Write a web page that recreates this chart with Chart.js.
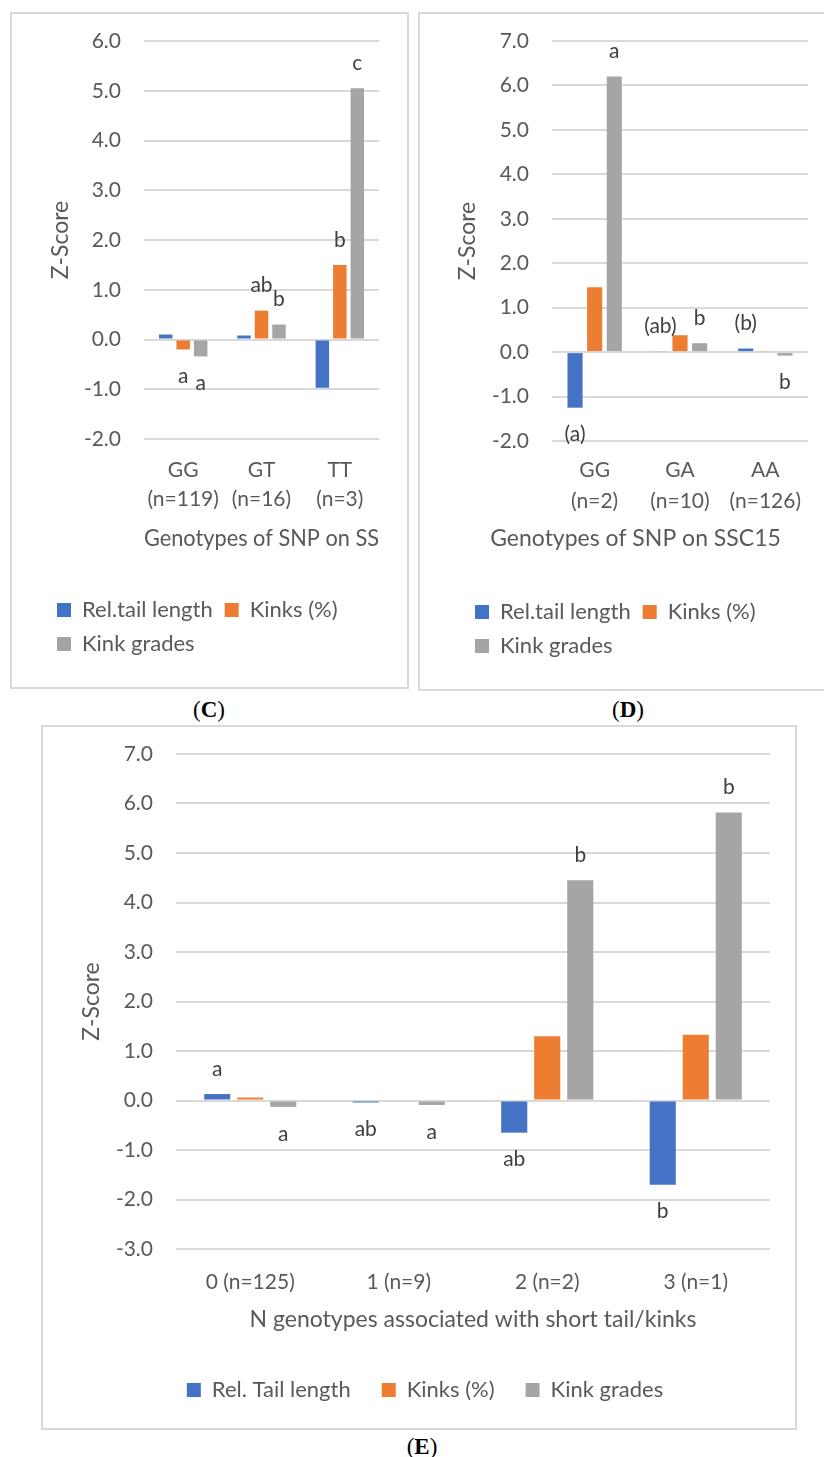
<!DOCTYPE html>
<html>
<head>
<meta charset="utf-8">
<title>Z-Score by genotype</title>
<script src="https://cdn.jsdelivr.net/npm/chart.js@4.4.1/dist/chart.umd.min.js"></script>
<style>
  html, body { margin: 0; padding: 0; background: #fff; }
  body { position: relative; width: 824px; height: 1457px; overflow: hidden; }
  .panel { position: absolute; box-sizing: border-box; border: 2px solid #d9d9d9; }
  canvas { position: absolute; }
  .cap { position: absolute; width: 80px; text-align: center; font: 23px "Liberation Serif", serif; color: #000; line-height: 26px; }
</style>
</head>
<body>
<div class="panel" style="left:10px;top:12px;width:399px;height:677px"></div>
<div class="panel" style="left:418px;top:12px;width:430px;height:679px;border-right:none"></div>
<div class="panel" style="left:41px;top:725px;width:756px;height:705px"></div>

<canvas id="chartC" width="395" height="673" style="left:12px;top:14px"></canvas>
<canvas id="chartD" width="402" height="675" style="left:420px;top:14px"></canvas>
<canvas id="chartE" width="751" height="700" style="left:43px;top:727px"></canvas>

<div class="cap" style="left:169px;top:697px">(<b>C</b>)</div>
<div class="cap" style="left:588px;top:697px">(<b>D</b>)</div>
<div class="cap" style="left:382px;top:1434px">(<b>E</b>)</div>

<script>
// Panel C - SNP genotypes (SSC..)
const catsC = [['GG', '(n=119)'], ['GT', '(n=16)'], ['TT', '(n=3)']];
const relTailC = [0.10, 0.08, -0.97];
const kinksC = [-0.20, 0.58, 1.50];
const gradesC = [-0.34, 0.30, 5.05];
const relTailLettersC = ['', '', ''];
const kinksLettersC = ['a', 'ab', 'b'];
const gradesLettersC = ['a', 'b', 'c'];

// Panel D - SNP genotypes on SSC15
const catsD = [['GG', '(n=2)'], ['GA', '(n=10)'], ['AA', '(n=126)']];
const relTailD = [-1.25, 0.02, 0.08];
const kinksD = [1.46, 0.38, 0.02];
const gradesD = [6.20, 0.20, -0.08];
const relTailLettersD = ['(a)', '(ab)', '(b)'];
const kinksLettersD = ['', '', ''];
const gradesLettersD = ['a', 'b', 'b'];

// Panel E - number of associated genotypes
const catsE = ['0 (n=125)', '1 (n=9)', '2 (n=2)', '3 (n=1)'];
const relTailE = [0.13, -0.04, -0.65, -1.70];
const kinksE = [0.06, 0.02, 1.30, 1.33];
const gradesE = [-0.13, -0.09, 4.45, 5.82];
const relTailLettersE = ['a', 'ab', 'ab', 'b'];
const kinksLettersE = ['', '', '', ''];
const gradesLettersE = ['a', 'a', 'b', 'b'];

const namesCD = ['Rel.tail length', 'Kinks (%)', 'Kink grades'];
const namesE = ['Rel. Tail length', 'Kinks (%)', 'Kink grades'];

const FONT = 'Lato, "Open Sans", sans-serif';
const GREY = '#595959';
const colors = ['#4472C4', '#ED7D31', '#A5A5A5'];

// significance letters drawn just past the end of each bar
const letterPlugin = {
    id: 'letters',
    afterDatasetsDraw(chart) {
        const ctx = chart.ctx;
        ctx.save();
        ctx.font = '21px ' + FONT;
        ctx.fillStyle = '#404040';
        ctx.textAlign = 'center';
        ctx.textBaseline = 'middle';
        chart.data.datasets.forEach((ds, i) => {
            const meta = chart.getDatasetMeta(i);
            ds.letters.forEach((txt, j) => {
                if (!txt) return;
                const bar = meta.data[j];
                const y = ds.data[j] >= 0 ? bar.y - 25 : bar.y + 27;
                ctx.fillText(txt, bar.x, y);
            });
        });
        ctx.restore();
    }
};

function barChart(id, o) {
    return new Chart(document.getElementById(id), {
        type: 'bar',
        data: {
            labels: o.labels,
            datasets: o.series.map((s, i) => ({
                label: o.names[i],
                data: s,
                letters: o.letters[i],
                backgroundColor: colors[i],
                barPercentage: o.barPct,
                categoryPercentage: o.catPct
            }))
        },
        options: {
            responsive: false,
            animation: false,
            devicePixelRatio: 1,
            layout: { padding: o.padding },
            scales: {
                x: {
                    grid: { display: false, drawTicks: false },
                    border: { display: false },
                    ticks: {
                        color: GREY,
                        padding: o.xTickPad,
                        maxRotation: 0,
                        autoSkip: false,
                        font: { family: FONT, size: 21, lineHeight: o.xLineHeight }
                    },
                    title: o.xScaleTitle,
                    afterFit: s => {
                        s.height = o.xHeight;
                        s.paddingLeft = 0;
                        s.paddingRight = 0;
                    }
                },
                y: {
                    min: o.min,
                    max: o.max,
                    ticks: {
                        stepSize: 1,
                        padding: 23,
                        color: GREY,
                        font: { family: FONT, size: 21 },
                        callback: v => v.toFixed(1)
                    },
                    grid: { color: '#d9d9d9', lineWidth: 2, drawTicks: false },
                    border: { display: false },
                    title: {
                        display: true,
                        text: 'Z-Score',
                        color: GREY,
                        font: { family: FONT, size: 23 },
                        padding: { top: o.yTitlePad, bottom: 0 }
                    },
                    afterFit: s => {
                        s.width = o.yWidth;
                        s.paddingTop = 0;
                        s.paddingBottom = 0;
                    }
                }
            },
            plugins: {
                legend: {
                    position: 'bottom',
                    align: o.legendAlign,
                    labels: {
                        boxWidth: 14,
                        boxHeight: 14,
                        padding: o.legendPad,
                        color: GREY,
                        font: { family: FONT, size: 22 }
                    }
                },
                title: o.bottomTitle,
                tooltip: { enabled: false }
            }
        },
        plugins: [letterPlugin]
    });
}

barChart('chartC', {
    labels: catsC,
    series: [relTailC, kinksC, gradesC],
    letters: [relTailLettersC, kinksLettersC, gradesLettersC],
    names: namesCD,
    min: -2, max: 6,
    barPct: 0.77, catPct: 0.67,
    padding: { left: 33, right: 28, top: 27, bottom: 22 },
    yWidth: 99, yTitlePad: 2,
    xHeight: 148, xTickPad: 16.5, xLineHeight: '29px',
    xScaleTitle: {
        display: true,
        text: 'Genotypes of SNP on SS',
        color: GREY,
        font: { family: FONT, size: 23 },
        padding: { top: 0, bottom: 34.2 }
    },
    legendAlign: 'start', legendPad: 12,
    bottomTitle: { display: false }
});

barChart('chartD', {
    labels: catsD,
    series: [relTailD, kinksD, gradesD],
    letters: [relTailLettersD, kinksLettersD, gradesLettersD],
    names: namesCD,
    min: -2, max: 7,
    barPct: 0.77, catPct: 0.69,
    padding: { left: 43, right: 14, top: 27, bottom: 22 },
    yWidth: 89, yTitlePad: -9,
    xHeight: 75, xTickPad: 13.5, xLineHeight: '31px',
    xScaleTitle: { display: false },
    legendAlign: 'start', legendPad: 12,
    bottomTitle: {
        display: true, position: 'bottom', align: 'center', weight: 500,
        text: 'Genotypes of SNP on SSC15', color: GREY,
        font: { family: FONT, size: 23, weight: 'normal' },
        padding: { top: 9.2, bottom: 36.2 }
    }
});

barChart('chartE', {
    labels: catsE,
    series: [relTailE, kinksE, gradesE],
    letters: [relTailLettersE, kinksLettersE, gradesLettersE],
    names: namesE,
    min: -3, max: 7,
    barPct: 0.79, catPct: 0.667,
    padding: { left: 37, right: 24, top: 27, bottom: 16 },
    yWidth: 96, yTitlePad: -2,
    xHeight: 99, xTickPad: 20.5, xLineHeight: '25px',
    xScaleTitle: {
        display: true,
        text: 'N genotypes associated with short tail/kinks',
        color: GREY,
        font: { family: FONT, size: 23 },
        padding: { top: 0, bottom: 14.2 }
    },
    legendAlign: 'center', legendPad: 31,
    bottomTitle: { display: false }
});
</script>
</body>
</html>
